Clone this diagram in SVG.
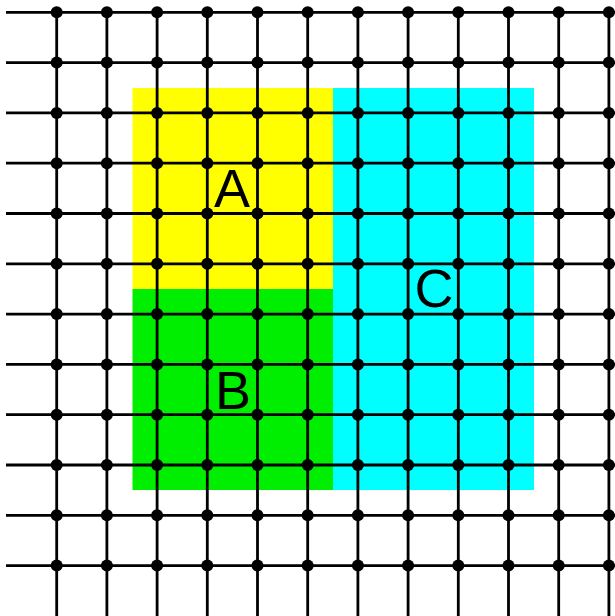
<svg xmlns="http://www.w3.org/2000/svg" width="615" height="616" viewBox="0 0 615 616">
<defs>
<style>
.ln{stroke:#000;stroke-width:2.8;fill:none}
.lbl{font-family:"Liberation Sans",Arial,sans-serif;font-size:54px;fill:#000;text-anchor:middle}
</style>
<circle id="d" r="6" fill="#000"/>
</defs>
<rect width="615" height="616" fill="#fff"/>
<g id="A"><rect x="132.5" y="88" width="200.5" height="201" fill="#ffff00"/></g>
<g id="B"><rect x="132.5" y="289" width="200.5" height="201" fill="#00ee00"/></g>
<g id="C"><rect x="333" y="88" width="201" height="402" fill="#00ffff"/></g>
<g id="connectors" class="ln">
<path d="M6 12.3H615M6 62.6H615M6 112.9H615M6 163.2H615M6 213.5H615M6 263.8H615M6 314.1H615M6 364.4H615M6 414.7H615M6 465H615M6 515.3H615M6 565.6H615"/>
<path d="M56.7 12.3V616M106.9 12.3V616M157.1 12.3V616M207.3 12.3V616M257.5 12.3V616M307.7 12.3V616M357.9 12.3V616M408.1 12.3V616M458.3 12.3V616M508.5 12.3V616M558.7 12.3V616M608.9 12.3V616"/>
</g>
<g id="dots">
<g id="r0" transform="translate(0,12.3)"><use href="#d" x="56.7"/><use href="#d" x="106.9"/><use href="#d" x="157.1"/><use href="#d" x="207.3"/><use href="#d" x="257.5"/><use href="#d" x="307.7"/><use href="#d" x="357.9"/><use href="#d" x="408.1"/><use href="#d" x="458.3"/><use href="#d" x="508.5"/><use href="#d" x="558.7"/><use href="#d" x="608.9"/></g>
<use href="#r0" y="50.3"/>
<use href="#r0" y="100.6"/>
<use href="#r0" y="150.9"/>
<use href="#r0" y="201.2"/>
<use href="#r0" y="251.5"/>
<use href="#r0" y="301.8"/>
<use href="#r0" y="352.1"/>
<use href="#r0" y="402.4"/>
<use href="#r0" y="452.7"/>
<use href="#r0" y="503"/>
<use href="#r0" y="553.3"/>
</g>
<g id="labels">
<text class="lbl" x="232" y="207">A</text>
<text class="lbl" x="233" y="409">B</text>
<text class="lbl" x="434" y="306.5">C</text>
</g>
</svg>
